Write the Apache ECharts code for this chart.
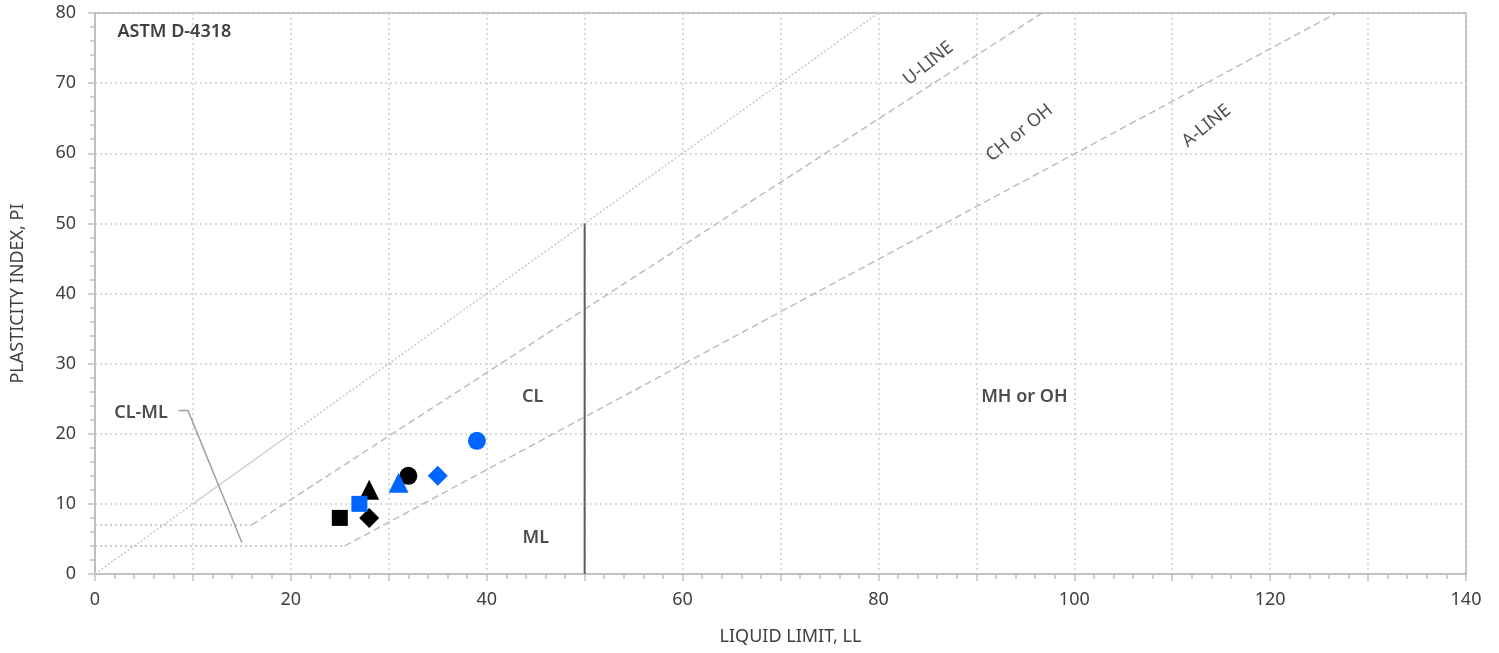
<!DOCTYPE html>
<html>
<head>
<meta charset="utf-8">
<title>Plasticity Chart</title>
<script src="https://cdn.jsdelivr.net/npm/echarts@6/dist/echarts.min.js"></script>
<style>
  html, body { margin: 0; padding: 0; background: #fff; }
  #chart { width: 1499px; height: 653px; }
</style>
</head>
<body>
<div id="chart"></div>
<script>
// Sample results: [liquid limit, plasticity index]
const blackSquare   = [[25, 8]];
const blackDiamond  = [[28, 8]];
const blackTriangle = [[28, 12]];
const blackCircle   = [[32, 14]];
const blueSquare    = [[27, 10]];
const blueTriangle  = [[31, 13]];
const blueDiamond   = [[35, 14]];
const blueCircle    = [[39, 19]];

// Classification boundaries (ASTM D-4318)
const uLine        = [[16, 7], [96.7, 80]];
const aLine        = [[25.5, 4], [126.8, 80]];
const equalLineLow = [[0, 0], [10, 10]];
const equalLineMid = [[10, 10], [20, 20]];
const equalLineHi  = [[20, 20], [80, 80]];
const ll50Line     = [[50, 0], [50, 50]];
const pi7Line      = [[0, 7], [16, 7]];
const pi4Line      = [[0, 4], [25.5, 4]];
const clmlLeader   = [[8.5, 23.3], [9.5, 23.3], [15, 4.5]];

// Zone / line annotations: [LL, PI, text]
const zoneLabels = [[44.7, 25.2, 'CL'], [45.0, 5.1, 'ML'], [94.9, 25.2, 'MH or OH'], [4.7, 23.0, 'CL-ML']];
const lineLabels = [[85.1, 72.8, 'U-LINE'], [94.4, 62.9, 'CH or OH'], [113.5, 63.9, 'A-LINE']];
const titleLabel = [[2.3, 77.3, 'ASTM D-4318']];

const FONT = '"Noto Sans", "Open Sans", sans-serif';
const BLACK = '#000000';
const BLUE = '#0066ff';

function boundary(data, color, type, width) {
  return {
    type: 'line', data: data, symbol: 'none', silent: true, z: 1,
    lineStyle: { color: color, type: type, width: width }
  };
}
function sample(data, symbol, color, size) {
  return { type: 'scatter', data: data, symbol: symbol, symbolSize: size, z: 5,
           itemStyle: { color: color, opacity: 1 } };
}
function textSeries(rows, label, z) {
  return {
    type: 'scatter', symbolSize: 0, silent: true, z: z || 4,
    itemStyle: { opacity: 1 },
    data: rows.map(r => ({ value: [r[0], r[1]], name: r[2] })),
    label: Object.assign({ show: true, position: 'inside', formatter: p => p.name,
                           fontFamily: FONT, opacity: 1 }, label)
  };
}

const chart = echarts.init(document.getElementById('chart'));
chart.setOption({
  animation: false,
  backgroundColor: '#ffffff',
  grid: { left: 95, right: 33, top: 13, bottom: 79, show: true, borderColor: '#c0c0c0', borderWidth: 2 },
  xAxis: {
    type: 'value', min: 0, max: 140, interval: 10,
    name: 'LIQUID LIMIT, LL', nameLocation: 'middle', nameGap: 54,
    nameTextStyle: { fontFamily: FONT, fontSize: 18, color: '#404040', padding: [0, 0, 0, 20] },
    axisLine: { show: true, onZero: false, lineStyle: { color: '#c0c0c0', width: 2 } },
    axisTick: { show: true, length: 7, lineStyle: { color: '#c0c0c0', width: 1.5 } },
    minorTick: { show: true, splitNumber: 5, length: 5, lineStyle: { color: '#c0c0c0', width: 1.5 } },
    axisLabel: { fontFamily: FONT, fontSize: 18, color: '#404040', margin: 17,
                 formatter: v => (v % 20 === 0 ? String(v) : '') },
    splitLine: { show: true, lineStyle: { color: '#cfcfcf', type: [2, 3], width: 1.5 } }
  },
  yAxis: {
    type: 'value', min: 0, max: 80, interval: 10,
    name: 'PLASTICITY INDEX, PI', nameLocation: 'middle', nameGap: 68,
    nameTextStyle: { fontFamily: FONT, fontSize: 18, color: '#404040' },
    axisLine: { show: true, onZero: false, lineStyle: { color: '#c0c0c0', width: 2 } },
    axisTick: { show: true, length: 7, lineStyle: { color: '#c0c0c0', width: 1.5 } },
    minorTick: { show: true, splitNumber: 5, length: 5, lineStyle: { color: '#c0c0c0', width: 1.5 } },
    axisLabel: { fontFamily: FONT, fontSize: 18, color: '#404040', margin: 19 },
    splitLine: { show: true, lineStyle: { color: '#cfcfcf', type: [2, 3], width: 1.5 } }
  },
  series: [
    boundary(equalLineLow, '#c8c8c8', [2, 2], 1.5),
    boundary(equalLineMid, '#d0d0d0', 'solid', 1.5),
    boundary(equalLineHi, '#c8c8c8', [2, 2], 1.5),
    boundary(pi7Line, '#bdbdbd', [2, 3], 1.5),
    boundary(pi4Line, '#bdbdbd', [2, 3], 1.5),
    boundary(uLine, '#bdbdbd', [7, 4], 1.5),
    boundary(aLine, '#bdbdbd', [7, 4], 1.5),
    boundary(ll50Line, '#5e5e5e', 'solid', 2),
    boundary(clmlLeader, '#a0a0a0', 'solid', 1.5),
    sample(blackSquare, 'rect', BLACK, 16),
    sample(blackDiamond, 'diamond', BLACK, 20),
    sample(blackTriangle, 'triangle', BLACK, 20),
    sample(blackCircle, 'circle', BLACK, 18),
    sample(blueSquare, 'rect', BLUE, 16),
    sample(blueTriangle, 'triangle', BLUE, 20),
    sample(blueDiamond, 'diamond', BLUE, 20),
    sample(blueCircle, 'circle', BLUE, 18),
    textSeries(zoneLabels, { fontSize: 18, fontWeight: 600, color: '#4d4d4d' }),
    textSeries(lineLabels, { fontSize: 18, color: '#4d4d4d', rotate: 39 }),
    textSeries(titleLabel, { fontSize: 18, fontWeight: 600, color: '#404040', position: 'right', distance: 0 })
  ]
});
</script>
</body>
</html>
